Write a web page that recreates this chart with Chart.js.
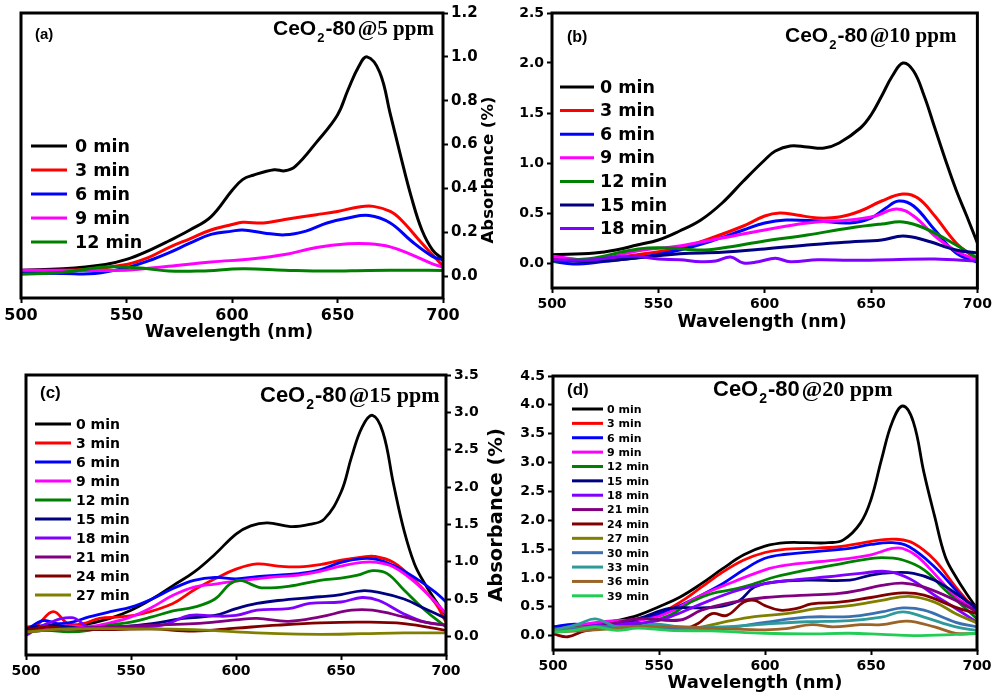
<!DOCTYPE html>
<html>
<head>
<meta charset="utf-8">
<script src="https://cdn.jsdelivr.net/npm/chart.js@4.4.0/dist/chart.umd.min.js"></script>
<style>
  body { margin: 0; background: #fff; }
  .wrap { position: relative; width: 995px; height: 695px; overflow: hidden; background: #fff; }
  .panel { position: absolute; }
</style>
</head>
<body>
<div class="wrap">
  <canvas id="chart-a" class="panel" width="500" height="345" style="left:0;top:0"></canvas>
  <canvas id="chart-b" class="panel" width="495" height="345" style="left:500px;top:0"></canvas>
  <canvas id="chart-c" class="panel" width="510" height="340" style="left:0;top:355px"></canvas>
  <canvas id="chart-d" class="panel" width="495" height="340" style="left:500px;top:355px"></canvas>
</div>

<script>
// shared axis ticks, legend labels, colours
const wavelengthTicks = [500, 550, 600, 650, 700];
const timeLabels = ['0 min', '3 min', '6 min', '9 min', '12 min', '15 min', '18 min',
                    '21 min', '24 min', '27 min', '30 min', '33 min', '36 min', '39 min'];
const seriesColors = ['#000000', '#ff0000', '#0000ff', '#ff00ff', '#008000', '#000080', '#8000ff',
                      '#800080', '#800000', '#808000', '#3a6fb0', '#2e9a9a', '#9a6428', '#22cc55'];

// (a) 5 ppm  -- [wavelength nm, absorbance]
const a00 = [[500,0.027],[520,0.033],[540,0.053],[550,0.076],[560,0.114],[570,0.16],[580,0.21],[590,0.27],[600,0.39],[605,0.44],[610,0.46],[620,0.485],[625,0.48],[630,0.50],[640,0.61],[650,0.735],[655,0.85],[660,0.955],[664,1.0],[670,0.93],[675,0.74],[680,0.545],[685,0.36],[690,0.21],[695,0.12],[700,0.076]];
const a03 = [[500,0.023],[530,0.03],[550,0.053],[560,0.083],[570,0.13],[580,0.17],[590,0.21],[600,0.235],[605,0.245],[615,0.242],[625,0.258],[640,0.28],[650,0.295],[660,0.315],[667,0.318],[675,0.295],[680,0.258],[690,0.15],[700,0.045]];
const a06 = [[500,0.015],[520,0.012],[535,0.012],[550,0.038],[560,0.068],[570,0.106],[580,0.15],[590,0.19],[600,0.205],[605,0.21],[615,0.197],[625,0.188],[635,0.205],[645,0.242],[655,0.265],[665,0.276],[675,0.242],[685,0.16],[695,0.09],[700,0.073]];
const a09 = [[500,0.027],[520,0.027],[550,0.027],[570,0.045],[590,0.064],[610,0.079],[625,0.098],[640,0.13],[655,0.147],[665,0.147],[675,0.133],[685,0.098],[695,0.056],[700,0.041]];
const a12 = [[500,0.008],[520,0.018],[540,0.041],[555,0.038],[570,0.023],[585,0.023],[605,0.033],[625,0.027],[645,0.023],[665,0.026],[685,0.027],[700,0.026]];
const seriesA = [a00, a03, a06, a09, a12];
const ticksA = [0.0, 0.2, 0.4, 0.6, 0.8, 1.0, 1.2];
const titleA = ['CeO', '2', '-80', '@5 ppm'];

// (b) 10 ppm
const b00 = [[500,0.083],[520,0.1],[530,0.13],[540,0.18],[550,0.23],[560,0.32],[570,0.43],[580,0.6],[590,0.82],[600,1.03],[605,1.12],[612,1.17],[620,1.16],[628,1.15],[635,1.2],[645,1.35],[650,1.48],[655,1.67],[660,1.87],[665,2.0],[670,1.92],[675,1.67],[680,1.35],[685,1.03],[690,0.73],[695,0.47],[700,0.2]];
const b03 = [[500,0.05],[520,0.033],[540,0.083],[560,0.15],[575,0.25],[590,0.37],[600,0.47],[607,0.5],[615,0.48],[625,0.45],[635,0.46],[645,0.52],[655,0.62],[665,0.69],[672,0.65],[680,0.47],[690,0.2],[700,0.033]];
const b06 = [[500,0.017],[510,-0.01],[525,0.017],[545,0.067],[560,0.13],[575,0.22],[590,0.33],[600,0.4],[610,0.43],[625,0.42],[640,0.4],[650,0.45],[657,0.55],[663,0.62],[670,0.57],[680,0.33],[690,0.1],[700,0.007]];
const b09 = [[500,0.067],[520,0.03],[540,0.12],[560,0.17],[580,0.25],[600,0.33],[620,0.4],[640,0.43],[652,0.47],[662,0.54],[670,0.47],[680,0.27],[690,0.12],[700,0.027]];
const b12 = [[500,0.017],[520,0.05],[535,0.12],[545,0.15],[555,0.15],[570,0.13],[580,0.15],[600,0.22],[620,0.28],[640,0.35],[655,0.39],[665,0.41],[675,0.35],[690,0.18],[700,0.05]];
const b15 = [[500,0.027],[520,0.017],[540,0.05],[560,0.093],[580,0.107],[600,0.14],[620,0.18],[640,0.21],[655,0.23],[665,0.27],[675,0.23],[690,0.13],[700,0.1]];
const b18 = [[500,0.033],[510,0.027],[520,0.033],[530,0.06],[540,0.067],[550,0.04],[560,0.033],[570,0.013],[577,0.02],[584,0.06],[590,0.0],[597,0.013],[605,0.047],[612,0.013],[625,0.033],[640,0.027],[660,0.033],[680,0.04],[700,0.02]];
const seriesB = [b00, b03, b06, b09, b12, b15, b18];
const ticksB = [0.0, 0.5, 1.0, 1.5, 2.0, 2.5];
const titleB = ['CeO', '2', '-80', '@10 ppm'];

// (c) 15 ppm
const c00 = [[500,0.08],[510,0.1],[520,0.125],[530,0.17],[540,0.24],[550,0.35],[560,0.5],[570,0.68],[580,0.86],[590,1.1],[600,1.37],[607,1.48],[615,1.52],[626,1.47],[635,1.5],[642,1.57],[650,1.93],[655,2.4],[660,2.8],[665,2.96],[670,2.73],[675,2.04],[680,1.42],[685,0.97],[690,0.7],[695,0.48],[700,0.28]];
const c03 = [[500,0.125],[505,0.15],[513,0.33],[520,0.17],[527,0.17],[535,0.24],[545,0.26],[555,0.3],[570,0.44],[580,0.62],[590,0.77],[600,0.9],[610,0.97],[620,0.94],[630,0.93],[640,0.96],[650,1.02],[660,1.06],[666,1.07],[675,0.99],[685,0.75],[695,0.44],[700,0.19]];
const c06 = [[500,0.08],[508,0.21],[515,0.17],[522,0.19],[530,0.26],[540,0.33],[550,0.39],[560,0.5],[570,0.64],[580,0.75],[590,0.79],[600,0.77],[610,0.8],[620,0.82],[630,0.84],[640,0.89],[650,0.99],[660,1.04],[667,1.03],[675,0.95],[685,0.79],[695,0.59],[700,0.46]];
const c09 = [[500,0.06],[510,0.1],[520,0.14],[530,0.13],[540,0.18],[550,0.26],[560,0.39],[570,0.55],[580,0.66],[590,0.7],[600,0.74],[610,0.77],[620,0.8],[630,0.82],[640,0.87],[650,0.94],[660,0.99],[667,0.99],[675,0.93],[685,0.73],[695,0.46],[700,0.3]];
const c12 = [[500,0.06],[510,0.08],[520,0.06],[530,0.08],[540,0.15],[550,0.19],[560,0.26],[570,0.34],[580,0.39],[590,0.5],[597,0.7],[602,0.75],[607,0.7],[612,0.65],[625,0.67],[640,0.75],[650,0.78],[658,0.82],[665,0.88],[672,0.84],[680,0.62],[690,0.35],[700,0.125]];
const c15 = [[500,0.1],[510,0.15],[520,0.125],[530,0.1],[545,0.125],[560,0.17],[575,0.24],[590,0.28],[600,0.37],[610,0.44],[620,0.48],[640,0.53],[650,0.56],[660,0.61],[668,0.59],[680,0.5],[690,0.37],[700,0.24]];
const c18 = [[500,0.013],[510,0.17],[522,0.25],[530,0.125],[545,0.125],[565,0.15],[578,0.28],[590,0.27],[600,0.28],[610,0.35],[625,0.37],[635,0.44],[650,0.46],[660,0.52],[668,0.48],[680,0.3],[690,0.19],[700,0.15]];
const c21 = [[500,0.06],[520,0.1],[540,0.125],[560,0.15],[580,0.17],[600,0.22],[610,0.24],[625,0.2],[640,0.26],[655,0.35],[665,0.35],[680,0.26],[690,0.19],[700,0.15]];
const c24 = [[500,0.08],[510,0.125],[520,0.1],[540,0.09],[560,0.1],[580,0.07],[600,0.11],[620,0.15],[640,0.18],[660,0.19],[680,0.17],[700,0.08]];
const c27 = [[500,0.06],[520,0.1],[550,0.1],[580,0.09],[600,0.06],[620,0.035],[640,0.027],[660,0.035],[680,0.045],[700,0.045]];
const seriesC = [c00, c03, c06, c09, c12, c15, c18, c21, c24, c27];
const ticksC = [0.0, 0.5, 1.0, 1.5, 2.0, 2.5, 3.0, 3.5];
const titleC = ['CeO', '2', '-80', '@15 ppm'];

// (d) 20 ppm
const d00 = [[500,0.15],[510,0.17],[520,0.2],[530,0.26],[540,0.35],[550,0.5],[560,0.67],[570,0.9],[580,1.16],[590,1.4],[600,1.55],[610,1.61],[620,1.61],[630,1.61],[637,1.66],[645,1.95],[650,2.36],[655,3.06],[660,3.7],[665,3.98],[670,3.7],[675,2.82],[680,2.07],[685,1.37],[690,1.02],[695,0.73],[700,0.47]];
const d03 = [[500,0.12],[520,0.17],[540,0.29],[550,0.38],[560,0.58],[570,0.84],[580,1.1],[590,1.31],[600,1.44],[610,1.5],[620,1.51],[635,1.54],[645,1.6],[655,1.66],[662,1.67],[670,1.6],[680,1.31],[690,0.84],[700,0.41]];
const d06 = [[500,0.15],[510,0.2],[520,0.17],[540,0.26],[555,0.44],[565,0.61],[580,0.9],[590,1.14],[600,1.34],[610,1.41],[625,1.46],[640,1.51],[650,1.58],[660,1.61],[668,1.54],[680,1.19],[690,0.79],[700,0.41]];
const d09 = [[500,0.09],[515,0.2],[530,0.26],[545,0.29],[555,0.41],[570,0.7],[585,0.93],[600,1.14],[610,1.22],[625,1.28],[640,1.34],[650,1.4],[660,1.51],[665,1.51],[672,1.37],[682,0.99],[692,0.61],[700,0.49]];
const d12 = [[500,0.12],[520,0.15],[540,0.2],[555,0.35],[565,0.58],[575,0.73],[585,0.8],[595,0.9],[605,1.02],[620,1.14],[635,1.24],[645,1.31],[655,1.35],[665,1.31],[675,1.14],[685,0.79],[700,0.29]];
const d15 = [[500,0.09],[520,0.15],[540,0.29],[555,0.47],[570,0.48],[580,0.51],[588,0.61],[595,0.84],[605,0.93],[620,0.96],[640,0.96],[650,1.05],[660,1.09],[670,1.08],[680,0.96],[690,0.73],[700,0.47]];
const d18 = [[500,0.06],[515,0.15],[530,0.2],[545,0.23],[555,0.32],[570,0.55],[585,0.76],[600,0.9],[615,0.97],[630,1.02],[645,1.08],[658,1.11],[668,0.99],[680,0.7],[690,0.47],[700,0.23]];
const d21 = [[500,0.09],[520,0.15],[540,0.29],[560,0.27],[570,0.44],[585,0.58],[600,0.66],[620,0.7],[635,0.73],[645,0.79],[655,0.87],[665,0.91],[675,0.84],[690,0.61],[700,0.41]];
const d24 = [[500,0.03],[507,-0.02],[515,0.08],[530,0.15],[545,0.15],[560,0.1],[568,0.2],[575,0.38],[582,0.35],[590,0.58],[595,0.61],[600,0.52],[607,0.44],[615,0.47],[622,0.55],[635,0.58],[650,0.66],[665,0.74],[675,0.7],[690,0.49],[700,0.38]];
const d27 = [[500,0.09],[520,0.15],[550,0.15],[565,0.12],[580,0.23],[595,0.33],[610,0.38],[625,0.47],[640,0.52],[655,0.61],[668,0.68],[680,0.58],[690,0.38],[700,0.22]];
const d30 = [[500,0.06],[520,0.15],[540,0.15],[560,0.12],[580,0.13],[600,0.23],[620,0.32],[640,0.33],[655,0.41],[665,0.48],[675,0.44],[690,0.23],[700,0.15]];
const d33 = [[500,0.09],[512,0.2],[520,0.29],[530,0.15],[540,0.15],[548,0.2],[560,0.15],[580,0.15],[600,0.2],[620,0.24],[640,0.26],[655,0.32],[665,0.41],[675,0.32],[690,0.15],[700,0.09]];
const d36 = [[500,0.06],[520,0.1],[540,0.15],[560,0.15],[580,0.12],[600,0.1],[610,0.12],[622,0.19],[632,0.15],[645,0.19],[655,0.19],[667,0.25],[680,0.15],[690,0.04],[700,0.04]];
const d39 = [[500,0.06],[510,0.09],[520,0.15],[530,0.09],[540,0.13],[555,0.09],[575,0.08],[600,0.04],[620,0.03],[640,0.04],[655,0.02],[670,0.0],[690,0.02],[700,0.04]];
const seriesD = [d00, d03, d06, d09, d12, d15, d18, d21, d24, d27, d30, d33, d36, d39];
const ticksD = [0.0, 0.5, 1.0, 1.5, 2.0, 2.5, 3.0, 3.5, 4.0, 4.5];
const titleD = ['CeO', '2', '-80', '@20 ppm'];

Chart.defaults.font.family = '"DejaVu Sans", sans-serif';
Chart.defaults.color = '#000';

// "CeO2-80@x ppm" with subscript 2, the concentration part in a serif face
function drawTitle(ctx, parts, t) {
  let x = t.x;
  const sans = `bold ${t.size}px "Liberation Sans", Arial, sans-serif`;
  ctx.textAlign = 'left';
  ctx.textBaseline = 'alphabetic';
  ctx.font = sans;
  ctx.fillText(parts[0], x, t.y);
  x += ctx.measureText(parts[0]).width + 1;
  ctx.font = `bold ${Math.round(t.size * 0.62)}px "Liberation Sans", Arial, sans-serif`;
  ctx.fillText(parts[1], x, t.y + t.size * 0.32);
  x += ctx.measureText(parts[1]).width + 1;
  ctx.font = sans;
  ctx.fillText(parts[2], x, t.y);
  x += ctx.measureText(parts[2]).width + 2;
  ctx.font = `bold ${t.size}px "Liberation Serif", "Times New Roman", serif`;
  ctx.fillText(parts[3], x, t.y);
}

// frame, in-plot legend, panel tag, titles
function makeDecor(cfg) {
  return {
    id: 'decor',
    afterDatasetsDraw(chart) {
      const ctx = chart.ctx, a = chart.chartArea;
      ctx.save();
      ctx.strokeStyle = '#000';
      ctx.lineWidth = 3;
      ctx.strokeRect(a.left, a.top, a.right - a.left, a.bottom - a.top);
      ctx.restore();
    },
    afterDraw(chart) {
      const ctx = chart.ctx;
      ctx.save();
      ctx.fillStyle = '#000';

      ctx.font = `bold ${cfg.tag.size}px "Liberation Sans", Arial, sans-serif`;
      ctx.textAlign = 'left';
      ctx.textBaseline = 'middle';
      ctx.fillText(cfg.tag.text, cfg.tag.x, cfg.tag.y);

      drawTitle(ctx, cfg.titleParts, cfg.title);

      const lg = cfg.legend;
      chart.data.datasets.forEach((ds, i) => {
        const y = lg.y + i * lg.dy;
        ctx.strokeStyle = ds.borderColor;
        ctx.lineWidth = lg.lw;
        ctx.beginPath();
        ctx.moveTo(lg.x, y);
        ctx.lineTo(lg.x + lg.len, y);
        ctx.stroke();
        ctx.font = `bold ${lg.size}px "DejaVu Sans", sans-serif`;
        ctx.textAlign = 'left';
        ctx.textBaseline = 'middle';
        ctx.fillText(ds.label, lg.tx, y + 1);
      });

      if (cfg.xTitle) {
        ctx.font = `bold ${cfg.xTitle.size}px "DejaVu Sans", sans-serif`;
        ctx.textAlign = 'center';
        ctx.textBaseline = 'middle';
        ctx.fillText('Wavelength (nm)', cfg.xTitle.x, cfg.xTitle.y);
      }
      if (cfg.yTitle) {
        ctx.translate(cfg.yTitle.x, cfg.yTitle.y);
        ctx.rotate(-Math.PI / 2);
        ctx.font = `bold ${cfg.yTitle.size}px "DejaVu Sans", sans-serif`;
        ctx.textAlign = 'center';
        ctx.textBaseline = 'middle';
        ctx.fillText('Absorbance (%)', 0, 0);
      }
      ctx.restore();
    }
  };
}

function makePanel(id, series, yTicks, p) {
  const n = series.length;
  const datasets = series.map((pts, i) => ({
    label: timeLabels[i],
    data: pts.map(d => ({ x: d[0], y: d[1] })),
    borderColor: seriesColors[i],
    borderWidth: p.lw,
    pointRadius: 0,
    fill: false,
    tension: 0.4,
    order: n - i
  }));

  const tickFont = size => ({ family: '"DejaVu Sans", sans-serif', weight: 'bold', size: size });
  const gridOpts = { drawOnChartArea: false, drawTicks: true, tickLength: 5, tickWidth: 2, tickColor: '#000' };

  return new Chart(document.getElementById(id), {
    type: 'line',
    data: { datasets: datasets },
    options: {
      responsive: false,
      animation: false,
      layout: { padding: p.padding },
      plugins: { legend: { display: false }, tooltip: { enabled: false } },
      scales: {
        x: {
          type: 'linear',
          position: 'bottom',
          min: 500,
          max: 700,
          afterBuildTicks: s => { s.ticks = wavelengthTicks.map(v => ({ value: v })); },
          afterFit: s => { s.height = p.xAxisH; },
          grid: gridOpts,
          border: { display: false },
          ticks: { font: tickFont(p.xTickSize), padding: 3, maxRotation: 0, autoSkip: false,
                   callback: v => String(v) }
        },
        y: {
          type: 'linear',
          position: p.yPos,
          min: p.yMin,
          max: p.yMax,
          afterBuildTicks: s => { s.ticks = yTicks.map(v => ({ value: v })); },
          afterFit: s => { s.width = p.yAxisW; },
          grid: gridOpts,
          border: { display: false },
          ticks: { font: tickFont(p.yTickSize), padding: 3, autoSkip: false,
                   callback: v => v.toFixed(1) }
        }
      }
    },
    plugins: [makeDecor(p.decor)]
  });
}

makePanel('chart-a', seriesA, ticksA, {
  lw: 3, padding: { left: 21, top: 13, right: 0, bottom: 0 },
  xAxisH: 47, yAxisW: 57, yPos: 'right', yMin: -0.1, yMax: 1.2, xTickSize: 16, yTickSize: 15,
  decor: {
    tag: { text: '(a)', x: 35, y: 35, size: 15 },
    titleParts: titleA, title: { x: 273, y: 35, size: 21 },
    legend: { x: 31, len: 36, tx: 75, y: 146, dy: 24, size: 17.5, lw: 3 },
    xTitle: { x: 229, y: 333, size: 17.3 },
    yTitle: { x: 489, y: 170, size: 16.5 }
  }
});

makePanel('chart-b', seriesB, ticksB, {
  lw: 3, padding: { left: 0, top: 13, right: 15, bottom: 0 },
  xAxisH: 57, yAxisW: 52, yPos: 'left', yMin: -0.25, yMax: 2.5, xTickSize: 14, yTickSize: 14,
  decor: {
    tag: { text: '(b)', x: 67, y: 38, size: 16 },
    titleParts: titleB, title: { x: 285, y: 42, size: 21 },
    legend: { x: 60, len: 34, tx: 100, y: 87, dy: 23.6, size: 17.5, lw: 3 },
    xTitle: { x: 262, y: 322, size: 17.4 }
  }
});

makePanel('chart-c', seriesC, ticksC, {
  lw: 2.8, padding: { left: 26, top: 20, right: 0, bottom: 0 },
  xAxisH: 40, yAxisW: 64, yPos: 'right', yMin: -0.25, yMax: 3.5, xTickSize: 14, yTickSize: 14,
  decor: {
    tag: { text: '(c)', x: 40, y: 38, size: 17 },
    titleParts: titleC, title: { x: 260, y: 47, size: 22 },
    legend: { x: 35, len: 36, tx: 76, y: 69, dy: 19, size: 14, lw: 3 },
    yTitle: { x: 497, y: 160, size: 19.5 }
  }
});

makePanel('chart-d', seriesD, ticksD, {
  lw: 2.8, padding: { left: 0, top: 21, right: 18, bottom: 0 },
  xAxisH: 45, yAxisW: 53, yPos: 'left', yMin: -0.25, yMax: 4.5, xTickSize: 14, yTickSize: 14,
  decor: {
    tag: { text: '(d)', x: 67, y: 35, size: 17 },
    titleParts: titleD, title: { x: 213, y: 41, size: 22 },
    legend: { x: 72, len: 31, tx: 107, y: 54, dy: 14.37, size: 11, lw: 3 },
    xTitle: { x: 255, y: 328, size: 18 }
  }
});
</script>
</body>
</html>
